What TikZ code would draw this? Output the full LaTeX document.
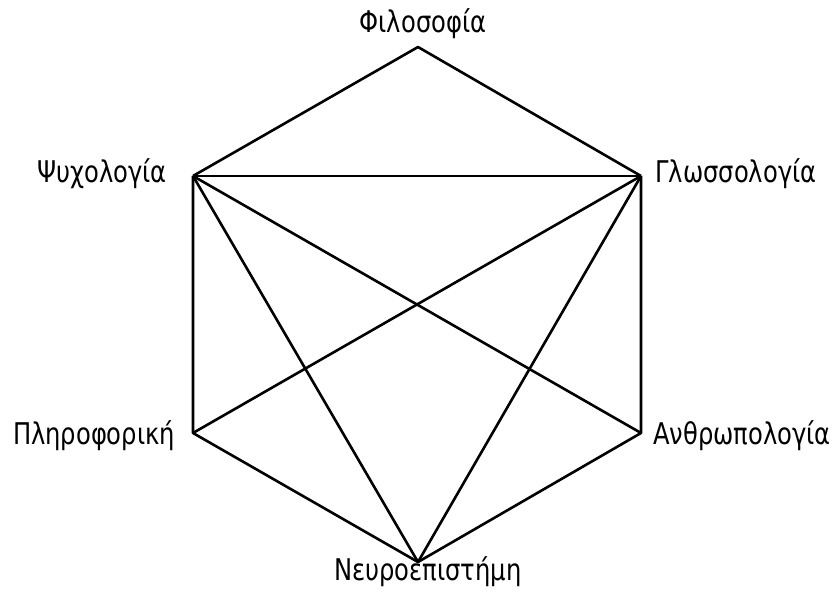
\documentclass[tikz,border=0pt]{standalone}
\usepackage{fontspec}
\setmainfont[FakeStretch=0.9]{DejaVu Sans Condensed}
\begin{document}
\begin{tikzpicture}[x=1bp,y=-1bp,
    edge/.style={line width=2.6bp, line join=round},
    lbl/.style={font=\fontsize{30}{35}\selectfont, inner sep=0pt, anchor=base}]
    \useasboundingbox (0,0) rectangle (835,600);

    % corners of the hexagon
    \coordinate (F) at (418,47);
    \coordinate (P) at (193,176);
    \coordinate (G) at (641,176);
    \coordinate (I) at (193,433);
    \coordinate (A) at (641,433);
    \coordinate (N) at (418,562);

    % labels
    \node[lbl] (phil) at (423,33) {Φιλοσοφία};
    \node[lbl] (psy) at (102,183) {Ψυχολογία};
    \node[lbl] (lin) at (736,183) {Γλωσσολογία};
    \node[lbl] (inf) at (94,444) {Πληροφορική};
    \node[lbl] (anth) at (742,444) {Ανθρωπολογία};
    \node[lbl] (neu) at (428,580) {Νευροεπιστήμη};

    % outline
    \draw[edge] (P) -- (F) -- (G);
    \draw[edge] (P) -- (I) -- (N) -- (A) -- (G);

    % diagonals
    \draw[edge] (P) -- (G);
    \draw[edge] (P) -- (N);
    \draw[edge] (P) -- (A);
    \draw[edge] (G) -- (I);
    \draw[edge] (G) -- (N);
\end{tikzpicture}
\end{document}
